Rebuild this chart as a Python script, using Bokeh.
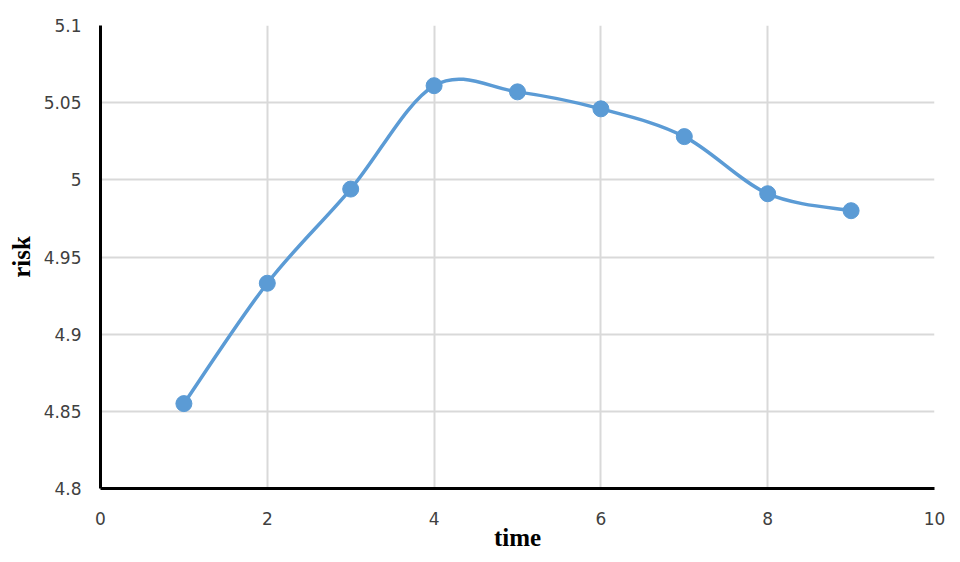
import numpy as np
from bokeh.plotting import figure
from bokeh.models import FixedTicker, Range1d
from bokeh.embed import file_html
from bokeh.resources import INLINE

# ---- data ----
time = [1, 2, 3, 4, 5, 6, 7, 8, 9]
risk = [4.855, 4.933, 4.994, 5.061, 5.057, 5.046, 5.028, 4.991, 4.980]
x_ticks = [0, 2, 4, 6, 8, 10]
y_ticks = [4.8, 4.85, 4.9, 4.95, 5.0, 5.05, 5.1]
y_tick_labels = ["4.8", "4.85", "4.9", "4.95", "5", "5.05", "5.1"]
x_title = "time"
y_title = "risk"

LINE = "#5B9BD5"
GRID = "#d9d9d9"
TICK = "#404040"

p = figure(width=958, height=556, output_backend="svg", toolbar_location=None,
           x_range=Range1d(0, 10), y_range=Range1d(4.8, 5.1),
           min_border_left=100, min_border_top=25, min_border_right=24, min_border_bottom=68)
p.outline_line_color = None
p.background_fill_color = "white"
p.border_fill_color = "white"

# axes
for ax in (p.xaxis[0], p.yaxis[0]):
    ax.axis_line_color = "black"
    ax.axis_line_width = 3
    ax.major_tick_line_color = None
    ax.minor_tick_line_color = None
    ax.major_label_text_font = "DejaVu Sans"
    ax.major_label_text_font_size = "17px"
    ax.major_label_text_color = TICK
    ax.axis_label_text_font = "Liberation Serif"
    ax.axis_label_text_font_style = "bold"
    ax.axis_label_text_font_size = "25px"
    ax.axis_label_text_color = "black"
p.xaxis.ticker = FixedTicker(ticks=x_ticks)
p.yaxis.ticker = FixedTicker(ticks=y_ticks)
p.yaxis.major_label_overrides = {t: l for t, l in zip(y_ticks, y_tick_labels)}
p.xaxis.major_label_standoff = 17
p.yaxis.major_label_standoff = 13
p.xaxis.axis_label = x_title
p.yaxis.axis_label = y_title
p.xaxis.axis_label_standoff = -4
p.yaxis.axis_label_standoff = 6

p.xgrid.grid_line_color = GRID
p.ygrid.grid_line_color = GRID
p.xgrid.grid_line_width = 2
p.ygrid.grid_line_width = 2
p.xgrid.ticker = FixedTicker(ticks=x_ticks)
p.ygrid.ticker = FixedTicker(ticks=y_ticks)

# smoothed line (Catmull-Rom style Bezier through the data points)
xs = np.array(time, dtype=float)
ys = np.array(risk, dtype=float)
n = len(xs)
x0, y0, x1, y1, cx0, cy0, cx1, cy1 = [], [], [], [], [], [], [], []
for i in range(n - 1):
    im1 = max(i - 1, 0)
    ip2 = min(i + 2, n - 1)
    x0.append(xs[i]); y0.append(ys[i])
    x1.append(xs[i + 1]); y1.append(ys[i + 1])
    cx0.append(xs[i] + (xs[i + 1] - xs[im1]) / 6)
    cy0.append(ys[i] + (ys[i + 1] - ys[im1]) / 6)
    cx1.append(xs[i + 1] - (xs[ip2] - xs[i]) / 6)
    cy1.append(ys[i + 1] - (ys[ip2] - ys[i]) / 6)
p.bezier(x0=x0, y0=y0, x1=x1, y1=y1, cx0=cx0, cy0=cy0, cx1=cx1, cy1=cy1,
         line_color=LINE, line_width=3.5, line_cap="round")
p.scatter(time, risk, size=16, fill_color=LINE, line_color=LINE)

open("out.html", "w").write(file_html(p, INLINE))
